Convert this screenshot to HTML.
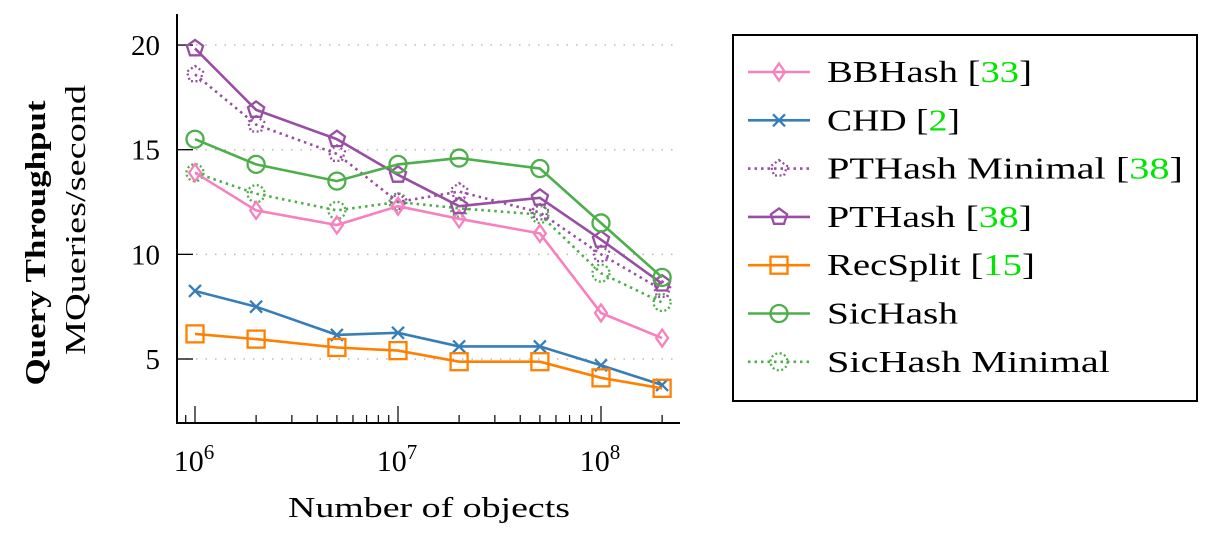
<!DOCTYPE html>
<html><head><meta charset="utf-8"><style>
body{margin:0;background:#fff;}
svg text{font-family:"Liberation Serif",serif;}
</style></head><body>
<svg id="chart" width="1224" height="535" xmlns="http://www.w3.org/2000/svg">
<g id="grid"></g>
<g id="axes"></g>
<g id="series"></g>
<text transform="translate(45,243) rotate(-90)" text-anchor="middle" font-size="28" font-weight="bold" textLength="285" lengthAdjust="spacingAndGlyphs">Query Throughput</text>
<text transform="translate(85,220) rotate(-90)" text-anchor="middle" font-size="28" textLength="270" lengthAdjust="spacingAndGlyphs">MQueries/second</text>
<text x="429" y="517" text-anchor="middle" font-size="29" textLength="282" lengthAdjust="spacingAndGlyphs">Number of objects</text>
<g id="legend"></g>
</svg>
<script>
const xValues=[1e6,2e6,5e6,1e7,2e7,5e7,1e8,2e8];
const bbhash=[13.9,12.1,11.4,12.3,11.7,11.0,7.2,6.0];
const chd=[8.25,7.5,6.15,6.25,5.6,5.6,4.7,3.76];
const pthashMinimal=[18.6,16.2,14.8,12.5,13.0,12.0,10.0,8.3];
const pthash=[19.84,16.9,15.5,13.8,12.3,12.7,10.7,8.6];
const recsplit=[6.2,5.95,5.55,5.4,4.87,4.87,4.1,3.6];
const sichash=[15.5,14.3,13.5,14.3,14.6,14.1,11.5,8.9];
const sichashMinimal=[13.9,12.9,12.1,12.5,12.2,11.9,9.1,7.7];
const yTicks=[5,10,15,20];
const xTickExp=[6,7,8];
const seriesNames=["BBHash","CHD","PTHash Minimal","PTHash","RecSplit","SicHash","SicHash Minimal"];
const seriesCites=["33","2","38","38","15","",""];
const legendWidths=[205,133,356,205,208,131,283];

const NS="http://www.w3.org/2000/svg";
const X0=177,X1=680,Y0=423,Y1=14;
function xs(v){return 195+(Math.log10(v)-6)*203;}
function ys(v){return 359-(v-5)*20.93;}
function mk(tag,attrs,parent){const e=document.createElementNS(NS,tag);for(const k in attrs)e.setAttribute(k,attrs[k]);parent.appendChild(e);return e;}
const grid=document.getElementById('grid'),axes=document.getElementById('axes'),ser=document.getElementById('series'),leg=document.getElementById('legend');

yTicks.forEach(t=>{
  const g=mk('line',{x1:X0,x2:X1,y1:ys(t),y2:ys(t),stroke:'#bbb','stroke-width':1.5,'stroke-dasharray':'1.5 8'},grid);
  
  
  const tk=mk('line',{x1:X0,x2:X0+16,y1:ys(t),y2:ys(t),stroke:'#000','stroke-width':1.3},axes);
  
  
  const tx=mk('text',{x:X0-17,y:ys(t)+10,'text-anchor':'end','font-size':29},axes);
  tx.textContent=t;
  
  
});
mk('line',{x1:X0,x2:X0,y1:Y1,y2:Y0+1,stroke:'#000','stroke-width':2},axes);
mk('line',{x1:X0-1,x2:X1,y1:Y0,y2:Y0,stroke:'#000','stroke-width':2},axes);
for(let e=5;e<=8;e++){for(let m=1;m<10;m++){const v=m*Math.pow(10,e);const x=xs(v);if(x<X0+2||x>X1)continue;
  const major=m===1;
  const tk=mk('line',{x1:x,x2:x,y1:Y0,y2:Y0-(major?17:8),stroke:'#000','stroke-width':1.2},axes);
  
  
}}
xTickExp.forEach(e=>{
  const t=mk('text',{x:xs(Math.pow(10,e))-1,y:471,'text-anchor':'middle','font-size':30},axes);
  t.innerHTML='10<tspan dy="-12" font-size="21">'+e+'</tspan>';
  
  
});

const R=8.5;
function marker(type,x,y,color,dash,parent){
  const a={fill:'none',stroke:color,'stroke-width':2.3};
  if(dash)a['stroke-dasharray']='2 2.5';
  let el;
  if(type==='diamond'){a.points=`${x},${y-R} ${x+R*0.7},${y} ${x},${y+R} ${x-R*0.7},${y}`;el=mk('polygon',a,parent);}
  else if(type==='x'){a.d=`M${x-6},${y-6}L${x+6},${y+6}M${x-6},${y+6}L${x+6},${y-6}`;el=mk('path',a,parent);}
  else if(type==='pent'){let p=[];for(let i=0;i<5;i++){const an=-Math.PI/2+i*2*Math.PI/5;p.push((x+R*Math.cos(an)).toFixed(1)+','+(y+R*Math.sin(an)).toFixed(1));}a.points=p.join(' ');el=mk('polygon',a,parent);}
  else if(type==='square'){a.x=x-R;a.y=y-R;a.width=2*R;a.height=2*R;el=mk('rect',a,parent);}
  else {a.cx=x;a.cy=y;a.r=R;el=mk('circle',a,parent);}
  
  
}
const defs=[
 {d:bbhash,c:'#f781bf',m:'diamond',dash:false,n:'bbhash'},
 {d:chd,c:'#377eb8',m:'x',dash:false,n:'chd'},
 {d:pthashMinimal,c:'#984ea3',m:'pent',dash:true,n:'pthash-minimal'},
 {d:pthash,c:'#984ea3',m:'pent',dash:false,n:'pthash'},
 {d:recsplit,c:'#ff7f00',m:'square',dash:false,n:'recsplit'},
 {d:sichash,c:'#4daf4a',m:'circle',dash:false,n:'sichash'},
 {d:sichashMinimal,c:'#4daf4a',m:'circle',dash:true,n:'sichash-minimal'}
];
const drawOrder=[6,2,0,1,4,3,5];
drawOrder.forEach(i=>{const s=defs[i];
  const g=mk('g',{},ser);
  
  
  const pts=s.d.map((v,j)=>xs(xValues[j]).toFixed(1)+','+ys(v).toFixed(1)).join(' ');
  const pl=mk('polyline',{points:pts,fill:'none',stroke:s.c,'stroke-width':2.6,'stroke-dasharray':s.dash?'2.5 4':'none'},g);
  
  
  s.d.forEach((v,j)=>marker(s.m,xs(xValues[j]),ys(v),s.c,s.dash,g));
});

const box=mk('rect',{x:733,y:35,width:464,height:366,fill:'#fff',stroke:'#000','stroke-width':2},leg);


defs.forEach((s,i)=>{
  const y=72+i*48.3;
  const g=mk('g',{},leg);
  
  
  mk('line',{x1:748,x2:810,y1:y,y2:y,stroke:s.c,'stroke-width':2.6,'stroke-dasharray':s.dash?'2.5 4':'none'},g);
  marker(s.m,779,y,s.c,s.dash,g);
  const t=mk('text',{x:827,y:y+10,'font-size':31,textLength:legendWidths[i],lengthAdjust:'spacingAndGlyphs'},g);
  let h=seriesNames[i];
  if(seriesCites[i])h+=' [<tspan fill="#00e600">'+seriesCites[i]+'</tspan>]';
  t.innerHTML=h;
});
</script>
</body></html>
